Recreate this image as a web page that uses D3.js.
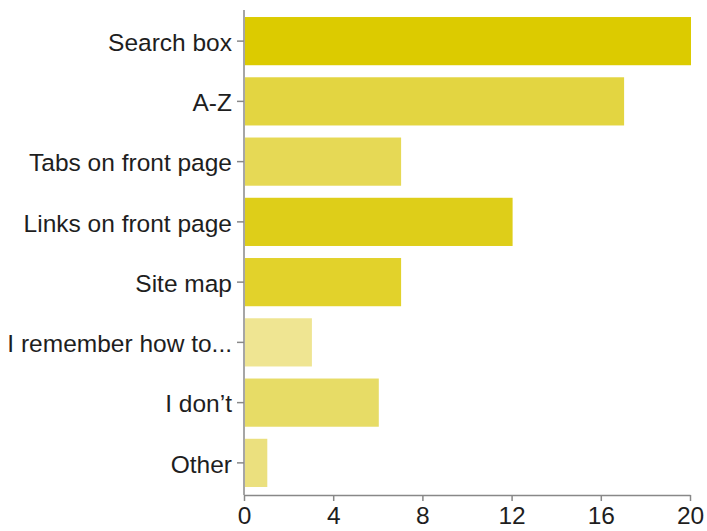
<!DOCTYPE html>
<html>
<head>
<meta charset="utf-8">
<script src="https://cdn.jsdelivr.net/npm/d3@7"></script>
<style>
  html, body { margin: 0; padding: 0; background: #fff; }
  svg { display: block; }
  .axis text { font-family: "Liberation Sans", Arial, Helvetica, sans-serif; font-size: 24.5px; fill: #1e1e1e; }
  .axis path, .axis line { stroke: #888; stroke-width: 1.5px; }
</style>
</head>
<body>
<svg id="chart" width="707" height="531"></svg>
<script>
const categories = ["Search box", "A-Z", "Tabs on front page", "Links on front page", "Site map", "I remember how to...", "I don\u2019t", "Other"];
const values = [20, 17, 7, 12, 7, 3, 6, 1];
const colors = ["#dccb00", "#e3d541", "#e6d955", "#dece19", "#e2d22b", "#efe592", "#e7dc66", "#ebe07e"];
const xTicks = [0, 4, 8, 12, 16, 20];

const svg = d3.select("#chart");
const x0 = 244, x1 = 690;
const x = d3.scaleLinear().domain([0, 20]).range([x0, x1]);
const y = d3.scaleBand().domain(categories).range([11, 493]).paddingInner(0.2).paddingOuter(0.1);

svg.selectAll("rect.bar")
  .data(categories)
  .join("rect")
  .attr("class", "bar")
  .attr("x", x(0) + 1)
  .attr("y", d => y(d))
  .attr("width", (d, i) => x(values[i]) - x(0))
  .attr("height", y.bandwidth())
  .attr("fill", (d, i) => colors[i]);

const yAxis = svg.append("g")
  .attr("class", "axis")
  .attr("transform", `translate(${x0},0)`)
  .call(d3.axisLeft(y).tickSize(7).tickPadding(5).tickSizeOuter(0));
yAxis.select("path.domain").attr("d", `M0,10V495`);
yAxis.selectAll("text").attr("dy", "0.4em");

const xAxis = svg.append("g")
  .attr("class", "axis")
  .attr("transform", `translate(0,495)`)
  .call(d3.axisBottom(x).tickValues(xTicks).tickSize(6).tickPadding(6).tickSizeOuter(0));
</script>
</body>
</html>
